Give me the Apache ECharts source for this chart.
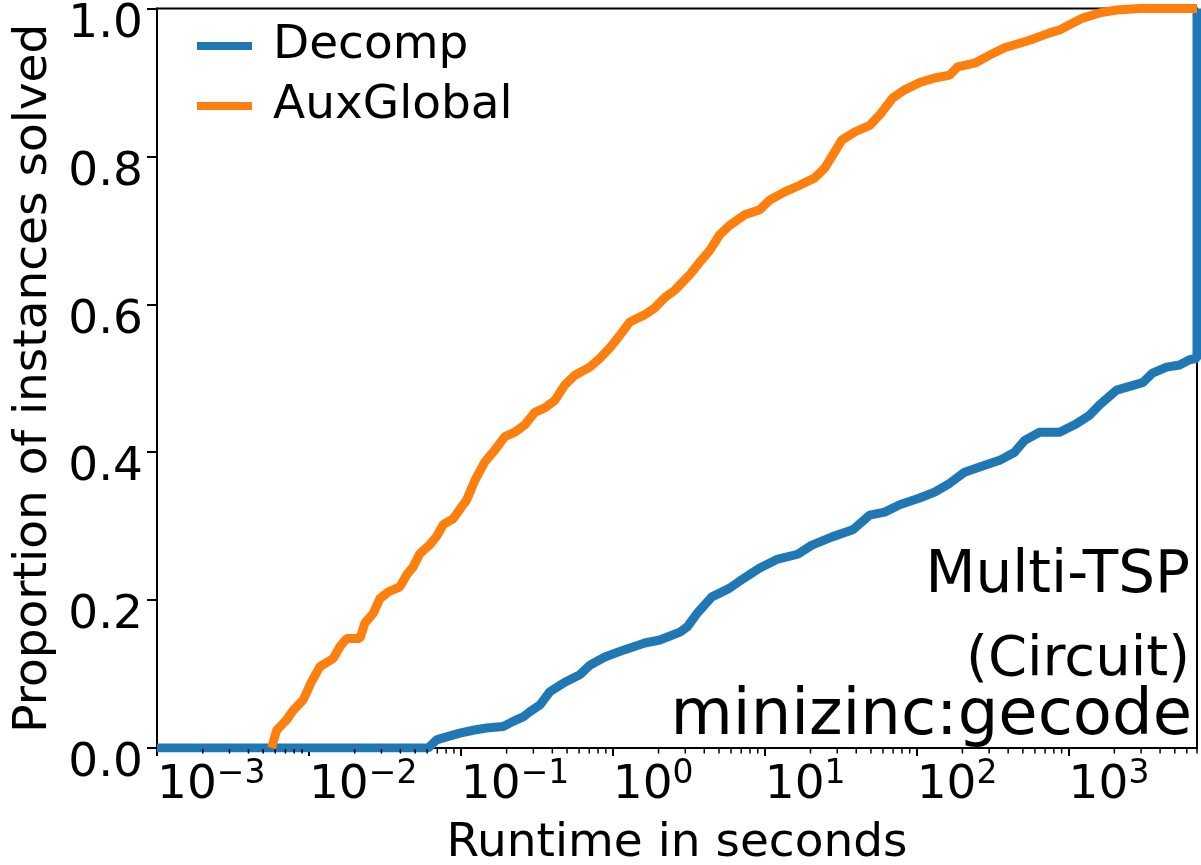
<!DOCTYPE html>
<html><head><meta charset="utf-8">
<script src="https://cdn.jsdelivr.net/npm/echarts@6/dist/echarts.min.js"></script>
<style>html,body{margin:0;padding:0;background:#fff}#c{width:1201px;height:865px}</style>
</head><body><div id="c"></div>
<script>
// ---- data (runtime in seconds, proportion solved) ----
const seriesNames = ['Decomp', 'AuxGlobal'];
const decompTime = [0.001, 0.06094, 0.0692, 0.08052, 0.09849, 0.1205, 0.1476, 0.1898, 0.2208, 0.2570, 0.2844, 0.3309,
  0.3850, 0.4832, 0.6065, 0.7060, 0.8857, 1.199, 1.624, 2.038, 2.789, 3.096, 3.619, 4.460, 5.798, 6.775, 9.271,
  12.03, 16.49, 20.29, 27.76, 37.92, 49.07, 61.60, 77.30, 104.6, 131.3, 164.9, 206.9, 259.7, 351.7, 441.2, 513.4,
  644.5, 872.6, 1095, 1375, 1599, 2069, 3068, 3569, 4412, 5376, 6254, 7000, 7000];
const decompProp = [0, 0, 0.011, 0.015, 0.020, 0.024, 0.027, 0.029, 0.036, 0.042, 0.049, 0.058,
  0.076, 0.089, 0.099, 0.112, 0.123, 0.133, 0.142, 0.146, 0.157, 0.164, 0.183, 0.204, 0.2155, 0.225, 0.2435,
  0.255, 0.262, 0.274, 0.2855, 0.295, 0.315, 0.319, 0.329, 0.338, 0.346, 0.358, 0.373, 0.380, 0.389, 0.400, 0.416,
  0.427, 0.427, 0.437, 0.450, 0.464, 0.484, 0.494, 0.507, 0.515, 0.518, 0.525, 0.527, 1.0];
const auxTime = [0.00568, 0.00613, 0.00713, 0.00788, 0.00917, 0.01042, 0.01181, 0.01445, 0.01599, 0.0177, 0.02165,
  0.02335, 0.02649, 0.02932, 0.03323, 0.0397, 0.04393, 0.04857, 0.05374, 0.06254, 0.0692, 0.07648, 0.08898, 0.1011,
  0.109, 0.1237, 0.1438, 0.1674, 0.1948, 0.2266, 0.2637, 0.3068, 0.3569, 0.4153, 0.4832, 0.5623, 0.7060, 0.8213,
  0.9556, 1.112, 1.294, 1.624, 1.889, 2.198, 2.558, 3.211, 3.736, 4.347, 5.057, 5.885, 7.387, 9.271, 10.79, 13.54,
  16.99, 21.33, 24.81, 28.88, 32.11, 39.09, 49.07, 57.11, 69.53, 83.40, 104.6, 131.3, 164.9, 186.1, 240.8, 302.2,
  379.2, 553.9, 749.9, 872.6, 1015, 1236, 1599, 2069, 2932, 7000];
const auxProp = [0, 0.024, 0.038, 0.051, 0.065, 0.090, 0.110, 0.121, 0.137, 0.148, 0.148,
  0.169, 0.182, 0.202, 0.211, 0.218, 0.234, 0.245, 0.263, 0.275, 0.286, 0.302, 0.310, 0.326,
  0.335, 0.362, 0.387, 0.403, 0.421, 0.427, 0.437, 0.454, 0.460, 0.470, 0.491, 0.504, 0.515, 0.527,
  0.541, 0.558, 0.576, 0.586, 0.595, 0.609, 0.619, 0.640, 0.657, 0.673, 0.694, 0.707, 0.721, 0.728, 0.741, 0.752,
  0.761, 0.771, 0.784, 0.806, 0.822, 0.833, 0.842, 0.856, 0.879, 0.890, 0.900, 0.906, 0.910, 0.921, 0.926, 0.937,
  0.947, 0.957, 0.967, 0.971, 0.978, 0.987, 0.994, 0.998, 1.0, 1.0];

// ---- axes ----
const xMin = 0.001, xMax = 7000;
const majorTickValues = [0.001, 0.01, 0.1, 1, 10, 100, 1000];
const minorTickValues = [];
majorTickValues.forEach(d => { for (let m = 2; m <= 9; m++) { const v = m * d; if (v <= xMax) minorTickValues.push(v); } });
const yMin = 0, yMax = 1, yInterval = 0.2;
const annotationLines = ['Multi-TSP', '(Circuit)', 'minizinc:gecode'];
const colors = ['#1f77b4', '#ff7f0e'];
const FONT = 'DejaVu Sans';

const zip = (xs, ys) => xs.map((x, i) => [x, ys[i]]);

const chart = echarts.init(document.getElementById('c'), null, { renderer: 'canvas' });
chart.setOption({
  animation: false,
  backgroundColor: '#fff',
  textStyle: { fontFamily: FONT },
  grid: { left: 157, right: 4, top: 8.5, bottom: 117, show: true, borderColor: '#000', borderWidth: 2,
    containLabel: false, outerBoundsMode: 'none' },
  legend: {
    orient: 'vertical', left: 197, top: 21, itemWidth: 55, itemHeight: 8, itemGap: 10, padding: 0,
    icon: 'rect', data: seriesNames,
    textStyle: { fontSize: 47, fontFamily: FONT, color: '#000', lineHeight: 50, padding: [0, 0, 0, 16] }
  },
  xAxis: {
    type: 'log', logBase: 10, min: xMin, max: xMax, position: 'bottom',
    name: 'Runtime in seconds', nameLocation: 'middle', nameGap: 72,
    nameTextStyle: { fontSize: 47, fontFamily: FONT, color: '#000' },
    axisLine: { lineStyle: { color: '#000', width: 2 } },
    axisTick: { length: 8, lineStyle: { color: '#000', width: 2 } },
    splitLine: { show: false },
    axisLabel: {
      align: 'left', margin: 10, showMaxLabel: false, hideOverlap: false,
      formatter: v => {
        const e = Math.log10(v), r = Math.round(e);
        if (Math.abs(e - r) > 1e-6) return '';
        return '{b|10}{s|' + (r < 0 ? '\u2212' + (-r) : String(r)) + '}';
      },
      rich: {
        b: { fontSize: 47, fontFamily: FONT, color: '#000', lineHeight: 56 },
        s: { fontSize: 33, fontFamily: FONT, color: '#000', lineHeight: 56, verticalAlign: 'top' }
      }
    }
  },
  yAxis: {
    type: 'value', min: yMin, max: yMax, interval: yInterval,
    name: 'Proportion of instances solved', nameLocation: 'middle', nameGap: 97,
    nameTextStyle: { fontSize: 47, fontFamily: FONT, color: '#000' },
    axisLine: { show: true, lineStyle: { color: '#000', width: 2 } },
    axisTick: { show: true, length: 10, lineStyle: { color: '#000', width: 2 } },
    splitLine: { show: false },
    axisLabel: { fontSize: 47, fontFamily: FONT, color: '#000', margin: 14, verticalAlign: 'top',
      lineHeight: 32, formatter: v => v.toFixed(1) }
  },
  series: [
    { name: seriesNames[0], type: 'line', data: zip(decompTime, decompProp), showSymbol: false, symbol: 'none',
      color: colors[0], lineStyle: { width: 9, color: colors[0] }, clip: true, z: 2 },
    { name: seriesNames[1], type: 'line', data: zip(auxTime, auxProp), showSymbol: false, symbol: 'none',
      color: colors[1], lineStyle: { width: 9, color: colors[1] }, clip: true, z: 3 },
    { name: 'minorTicks', type: 'custom', clip: false, silent: true, z: 5,
      data: minorTickValues.map(v => [v, yMin]),
      renderItem: (params, api) => {
        const p = api.coord([api.value(0), yMin]);
        return { type: 'line', shape: { x1: p[0], y1: p[1] + 1, x2: p[0], y2: p[1] + 5.5 },
          style: { stroke: '#000', lineWidth: 1.5 } };
      }
    }
  ],
  graphic: [
    { type: 'text', x: 1190, y: 577, style: { text: annotationLines[0], fontSize: 58, fontFamily: FONT, fill: '#000', align: 'right', verticalAlign: 'middle' } },
    { type: 'text', x: 1190, y: 660, style: { text: annotationLines[1], fontSize: 56, fontFamily: FONT, fill: '#000', align: 'right', verticalAlign: 'middle' } },
    { type: 'text', x: 1192, y: 717, style: { text: annotationLines[2], fontSize: 64, fontFamily: FONT, fill: '#000', align: 'right', verticalAlign: 'middle' } }
  ]
});
</script></body></html>
